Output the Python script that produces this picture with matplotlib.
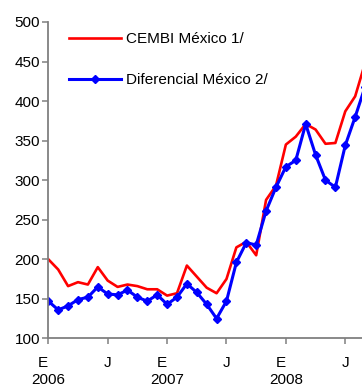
import numpy as np
import matplotlib
matplotlib.use("Agg")
import matplotlib.pyplot as plt
import matplotlib.transforms as mtransforms

plt.rcParams['font.family'] = ['Liberation Sans', 'DejaVu Sans']

# meses desde enero 2006 (0) hasta septiembre 2008 (32)
meses = np.arange(33)
cembi = [200, 187, 166, 171, 168, 190, 173, 165, 168, 166, 162, 162,
         154, 157, 192, 178, 164, 157, 175, 215, 222, 205, 275, 293,
         345, 355, 371, 364, 346, 347, 387, 406, 448]
diferencial = [147, 136, 141, 149, 152, 165, 156, 155, 161, 152, 147, 155,
               143, 152, 169, 158, 143, 125, 147, 196, 221, 218, 261, 291,
               317, 325, 371, 332, 300, 291, 344, 380, 418]
tick_pos = [0, 6, 12, 18, 24, 30]
tick_lab = ['E', 'J', 'E', 'J', 'E', 'J']
anios = ['2006', '2007', '2008']

fig = plt.figure(figsize=(3.62, 3.87), dpi=100)
ax = fig.add_axes([0.1334, 0.1258, 1 - 0.1334, 0.8174])

ax.plot(meses, cembi, color='#ff0000', lw=1.9, label='CEMBI México 1/')
ax.plot(meses, diferencial, color='#0000ff', lw=2.2, marker='D', ms=4.2,
        label='Diferencial México 2/')

ax.set_ylim(100, 500)
ax.set_yticks(range(100, 501, 50))
ax.set_xlim(0, 31.69)
ax.set_xticks(tick_pos)
ax.set_xticklabels(tick_lab)

for s in ['top', 'right']:
    ax.spines[s].set_visible(False)
for s in ['left', 'bottom']:
    ax.spines[s].set_color('#808080')
    ax.spines[s].set_linewidth(1.3)
ax.tick_params(axis='both', direction='out', length=4, width=1.1,
               color='#808080', labelsize=11, labelcolor='black')
ax.tick_params(axis='x', pad=9)
ax.tick_params(axis='y', pad=2)

# las E van un poco corridas a la izquierda
off = mtransforms.ScaledTranslation(-5 / 100, 0, fig.dpi_scale_trans)
for lbl in ax.get_xticklabels():
    if lbl.get_text() == 'E':
        lbl.set_transform(lbl.get_transform() + off)

trans = mtransforms.blended_transform_factory(ax.transData, fig.transFigure)
for i, a in enumerate(anios):
    ax.text(tick_pos[2 * i], 1 - 380 / 387, a, transform=trans, ha='center',
            va='center', fontsize=11)

ax.legend(loc='upper left', bbox_to_anchor=(63 / 362, 1 - 26 / 387),
          bbox_transform=fig.transFigure, frameon=False, fontsize=11,
          handlelength=3.4, handletextpad=0.3, labelspacing=1.75,
          borderaxespad=0)

fig.savefig('out.png', dpi=100)
